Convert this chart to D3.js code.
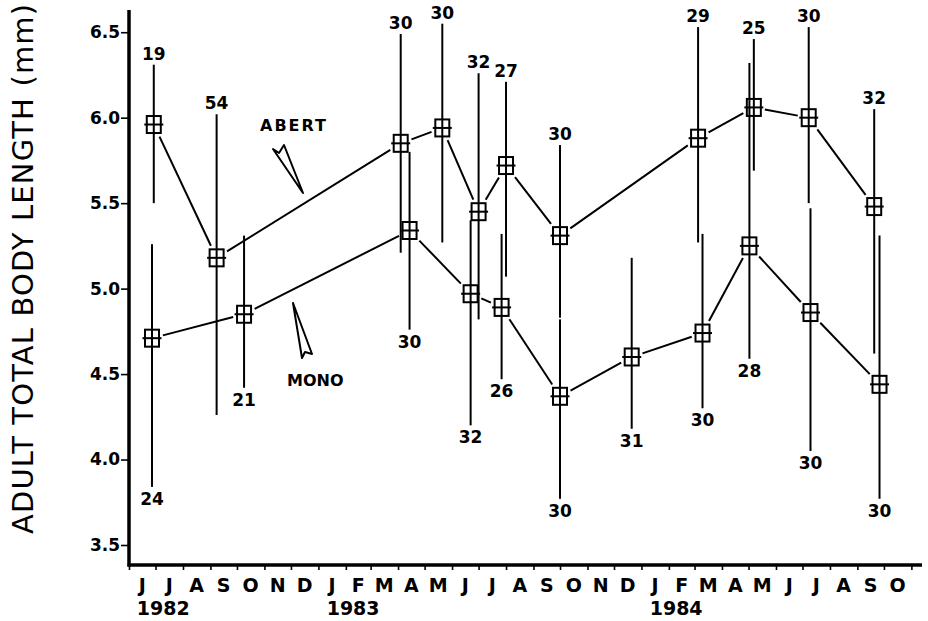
<!DOCTYPE html>
<html>
<head>
<meta charset="utf-8">
<script src="https://cdn.jsdelivr.net/npm/d3@7"></script>
<style>
  body { margin: 0; background: #fff; }
  svg { display: block; font-family: "DejaVu Sans", sans-serif; }
</style>
</head>
<body>
<svg id="chart" width="928" height="621"></svg>
<script>
// Sampling dates, means, error bar ends and sample sizes
var abertDates = ["1982-06-29", "1982-09-08", "1983-04-04", "1983-05-21", "1983-07-01", "1983-08-01",
                  "1983-10-01", "1984-03-05", "1984-05-07", "1984-07-08", "1984-09-20"];
var abertMean  = [5.96, 5.18, 5.85, 5.94, 5.45, 5.72, 5.31, 5.88, 6.06, 6.00, 5.48];
var abertHigh  = [6.31, 6.02, 6.49, 6.55, 6.26, 6.21, 5.84, 6.53, 6.46, 6.53, 6.05];
var abertLow   = [5.50, 4.26, 5.21, 5.27, 4.82, 5.07, 4.83, 5.27, 5.69, 5.50, 4.62];
var abertN     = ["19", "54", "30", "30", "32", "27", "30", "29", "25", "30", "32"];

var monoDates = ["1982-06-27", "1982-10-09", "1983-04-14", "1983-06-22", "1983-07-27", "1983-10-01",
                 "1983-12-21", "1984-03-10", "1984-05-02", "1984-07-10", "1984-09-26"];
var monoMean  = [4.71, 4.85, 5.34, 4.97, 4.89, 4.37, 4.60, 4.74, 5.25, 4.86, 4.44];
var monoHigh  = [5.26, 5.31, 5.80, 5.40, 5.32, 4.82, 5.18, 5.32, 6.32, 5.47, 5.31];
var monoLow   = [3.84, 4.42, 4.76, 4.20, 4.47, 3.77, 4.18, 4.30, 4.59, 4.05, 3.77];
var monoN     = ["24", "21", "30", "32", "26", "30", "31", "30", "28", "30", "30"];

var yTicks = [3.5, 4.0, 4.5, 5.0, 5.5, 6.0, 6.5];
var yearLabels = ["1982", "1983", "1984"];
var yearMonths = ["1982-06-01", "1983-01-01", "1984-01-01"];

var parse = d3.timeParse("%Y-%m-%d");
var svg = d3.select("#chart");

var x = d3.scaleTime()
    .domain([parse("1982-06-01"), parse("1984-11-13")])
    .range([129, 922]);

var y = d3.scaleLinear()
    .domain([3.383, 6.63])
    .range([565, 10]);

function rows(dates, mean, hi, lo, n) {
  return dates.map(function(d, i) {
    return {date: parse(d), mean: mean[i], hi: hi[i], lo: lo[i], n: n[i]};
  });
}
var abert = rows(abertDates, abertMean, abertHigh, abertLow, abertN);
var mono = rows(monoDates, monoMean, monoHigh, monoLow, monoN);

// y axis
var yAxis = svg.append("g")
    .attr("transform", "translate(129,0)")
    .call(d3.axisLeft(y).tickValues(yTicks).tickSize(8).tickPadding(1).tickFormat(d3.format(".1f")));
yAxis.select(".domain").remove();
yAxis.selectAll("line").attr("stroke", "#000").attr("stroke-width", 1.6);
yAxis.selectAll("text")
    .attr("fill", "#000")
    .attr("font-size", 17)
    .attr("font-weight", "bold")
    .attr("font-family", "DejaVu Sans, sans-serif");

// x axis: ticks at month boundaries, letters centred in each month
var months = d3.timeMonth.range(parse("1982-06-01"), parse("1984-12-01"));
var xAxis = svg.append("g")
    .attr("transform", "translate(0,565)")
    .call(d3.axisBottom(x).tickValues(months).tickSize(5).tickFormat(""));
xAxis.select(".domain").remove();
xAxis.selectAll("line").attr("stroke", "#000").attr("stroke-width", 1.6);

var labelMonths = months.slice(0, months.length - 1);
svg.append("g").selectAll("text")
    .data(labelMonths)
    .enter().append("text")
      .attr("x", function(d) { return (x(d) + x(d3.timeMonth.offset(d, 1))) / 2; })
      .attr("y", 592)
      .attr("text-anchor", "middle")
      .attr("font-size", 19)
      .attr("font-weight", "bold")
      .text(function(d) { return d3.timeFormat("%b")(d).charAt(0); });

svg.append("g").selectAll("text")
    .data(yearLabels)
    .enter().append("text")
      .attr("x", function(d, i) {
        var m = parse(yearMonths[i]);
        return (x(m) + x(d3.timeMonth.offset(m, 1))) / 2 + 21;
      })
      .attr("y", 615)
      .attr("text-anchor", "middle")
      .attr("font-size", 19)
      .attr("font-weight", "bold")
      .text(function(d) { return d; });

// heavy axis lines
svg.append("line").attr("x1", 129).attr("x2", 129).attr("y1", 10).attr("y2", 566.5)
    .attr("stroke", "#000").attr("stroke-width", 3.5);
svg.append("line").attr("x1", 127.5).attr("x2", 922).attr("y1", 565).attr("y2", 565)
    .attr("stroke", "#000").attr("stroke-width", 3.5);

// axis title
svg.append("text")
    .attr("transform", "translate(33,269) rotate(-90)")
    .attr("text-anchor", "middle")
    .attr("font-size", 29)
    .attr("font-weight", "normal")
    .attr("fill", "#000")
    .attr("textLength", 530)
    .attr("lengthAdjust", "spacing")
    .text("ADULT TOTAL BODY LENGTH (mm)");

var boxW = 14, boxH = 17;

function drawSeries(data, above) {
  var g = svg.append("g");

  // connecting segments stop short of the boxes
  for (var i = 0; i < data.length - 1; i++) {
    var x1 = x(data[i].date), y1 = y(data[i].mean);
    var x2 = x(data[i + 1].date), y2 = y(data[i + 1].mean);
    var dx = x2 - x1, dy = y2 - y1, len = Math.sqrt(dx * dx + dy * dy);
    var ux = dx / len, uy = dy / len;
    var gap = Math.min(boxW / 2 / Math.abs(ux || 1e-6), boxH / 2 / Math.abs(uy || 1e-6)) + 4;
    g.append("line")
        .attr("x1", x1 + ux * gap).attr("y1", y1 + uy * gap)
        .attr("x2", x2 - ux * gap).attr("y2", y2 - uy * gap)
        .attr("stroke", "#000").attr("stroke-width", 2);
  }

  var pt = g.selectAll(".pt")
    .data(data)
    .enter().append("g")
      .attr("class", "pt");

  pt.append("rect")
      .attr("x", function(d) { return x(d.date) - boxW / 2; })
      .attr("y", function(d) { return y(d.mean) - boxH / 2; })
      .attr("width", boxW)
      .attr("height", boxH)
      .attr("fill", "#fff")
      .attr("stroke", "#000")
      .attr("stroke-width", 2);

  pt.append("line")
      .attr("x1", function(d) { return x(d.date); })
      .attr("x2", function(d) { return x(d.date); })
      .attr("y1", function(d) { return y(d.hi); })
      .attr("y2", function(d) { return y(d.lo); })
      .attr("stroke", "#000")
      .attr("stroke-width", 2);

  pt.append("line")
      .attr("x1", function(d) { return x(d.date) - boxW / 2 - 2.5; })
      .attr("x2", function(d) { return x(d.date) + boxW / 2 + 2.5; })
      .attr("y1", function(d) { return y(d.mean); })
      .attr("y2", function(d) { return y(d.mean); })
      .attr("stroke", "#000")
      .attr("stroke-width", 2);

  pt.append("text")
      .attr("x", function(d) { return x(d.date); })
      .attr("y", function(d) { return above ? y(d.hi) - 5 : y(d.lo) + 18; })
      .attr("text-anchor", "middle")
      .attr("font-size", 17)
      .attr("font-weight", "bold")
      .text(function(d) { return d.n; });
}

drawSeries(abert, true);
drawSeries(mono, false);

// series annotations with wedge pointers
svg.append("text")
    .attr("x", 260).attr("y", 131)
    .attr("font-size", 16).attr("font-weight", "bold")
    .attr("letter-spacing", 2)
    .text("ABERT");
svg.append("path")
    .attr("d", "M303,193 L273,149 L279,153 L284,145 Z")
    .attr("fill", "#fff").attr("stroke", "#000").attr("stroke-width", 2)
    .attr("stroke-linejoin", "round");

svg.append("text")
    .attr("x", 287).attr("y", 386)
    .attr("font-size", 16).attr("font-weight", "bold")
    .text("MONO");
svg.append("path")
    .attr("d", "M293,303 L302,358 L305,352 L312,354 Z")
    .attr("fill", "#fff").attr("stroke", "#000").attr("stroke-width", 2)
    .attr("stroke-linejoin", "round");
</script>
</body>
</html>
